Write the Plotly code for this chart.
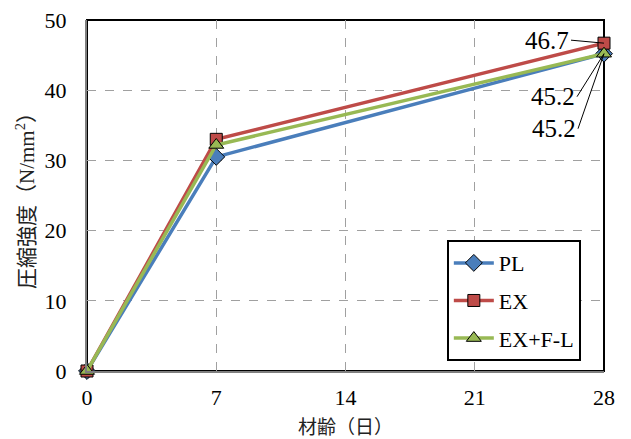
import plotly.graph_objects as go

ages = [0, 7, 28]
pl = [0, 30.5, 45.2]
ex = [0, 33.0, 46.7]
exfl = [0, 32.2, 45.2]
series_names = ["PL", "EX", "EX+F-L"]
x_ticks = [0, 7, 14, 21, 28]
y_ticks = [0, 10, 20, 30, 40, 50]
x_title = "材齢（日）"
y_title = "圧縮強度（N/mm<sup>2</sup>）"

SERIF = "Liberation Serif"
CJK = "Liberation Serif, Noto Sans CJK JP"

fig = go.Figure()
styles = [
    ("#4A7EBB", "diamond", 13),
    ("#BE4B48", "square", 12),
    ("#98B954", "triangle-up", 13),
]
for name, vals, (col, sym, sz) in zip(series_names, [pl, ex, exfl], styles):
    fig.add_trace(go.Scatter(
        x=ages, y=vals, name=name, mode="lines+markers", legendgroup=name,
        line=dict(color=col, width=3.5),
        marker=dict(symbol=sym, size=sz, color=col, line=dict(color="black", width=1)),
        cliponaxis=False,
    ))

# data labels with leader lines
labels = [(ex[2], "46.7", -33, -3), (exfl[2], "45.2", -27, 43), (pl[2], "45.2", -26, 75)]
for yv, txt, ax, ay in labels:
    fig.add_annotation(x=28, y=yv, text=txt, showarrow=True, arrowhead=0,
                       arrowwidth=1, arrowcolor="black", ax=ax, ay=ay,
                       xanchor="right", font=dict(family=SERIF, size=25, color="black"))

# x-axis title placed as a paper annotation
fig.add_annotation(xref="paper", yref="paper", x=0.5, y=0, yshift=-56,
                   xanchor="center", yanchor="middle", showarrow=False,
                   text=x_title, font=dict(family=CJK, size=19, color="#222"))

# page body has an 8px margin, so the figure is sized/offset to compensate
fig.update_layout(
    width=623, height=431,
    margin=dict(l=79, r=27, t=12, b=68),
    paper_bgcolor="white", plot_bgcolor="white",
    showlegend=True,
    legend=dict(x=0.696, y=0.373, xanchor="left", yanchor="top",
                bgcolor="white", bordercolor="black", borderwidth=2,
                font=dict(family=SERIF, size=22, color="black"),
                tracegroupgap=6, traceorder="grouped", itemwidth=40),
    font=dict(family=SERIF, size=22, color="black"),
)
fig.update_xaxes(range=[0, 28], tickvals=x_ticks, showgrid=True, automargin=False,
                 gridcolor="#A0A0A0", griddash="dash", gridwidth=1,
                 showline=True, linecolor="#7F7F7F", linewidth=2, mirror=False,
                 zeroline=False, ticks="", ticklabelstandoff=6, ticklabeloverflow="allow",
                 tickfont=dict(family=SERIF, size=22, color="black"))
fig.update_yaxes(range=[0, 50], tickvals=y_ticks, showgrid=True, automargin=False,
                 gridcolor="#A0A0A0", griddash="dash", gridwidth=1,
                 showline=True, linecolor="#7F7F7F", linewidth=2,
                 zeroline=False, ticks="", ticklabelstandoff=14, ticklabeloverflow="allow",
                 tickfont=dict(family=SERIF, size=22, color="black"),
                 title=dict(text=y_title, font=dict(family=CJK, size=21, color="#222"), standoff=4))
# plot area border (top/right)
fig.add_shape(type="rect", xref="paper", yref="paper", x0=0, y0=0, x1=1, y1=1,
              line=dict(color="black", width=2), layer="below")

fig.write_html("out.html")
